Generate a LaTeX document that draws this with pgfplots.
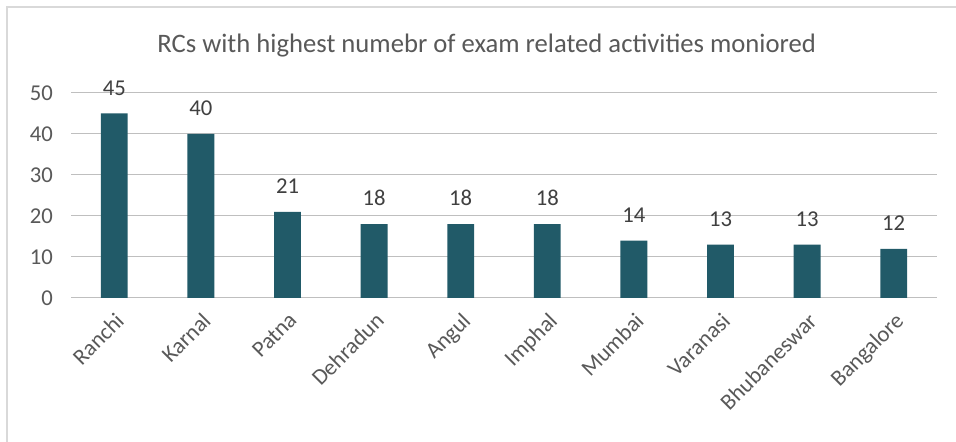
\documentclass[border=0pt]{standalone}
\usepackage{pgfplots}
\pgfplotsset{compat=1.18}
\usepackage{fontspec}
\setmainfont{Carlito}
\definecolor{bar}{HTML}{215A68}
\definecolor{grid}{HTML}{D9D9D9}
\definecolor{txt}{HTML}{595959}
\begin{document}
\begin{tikzpicture}
\useasboundingbox (0,0) rectangle (717pt,331.5pt);
\fill[white] (0,0) rectangle (717pt,331.5pt);
\draw[grid,line width=1.5pt] (5.25pt,0) -- (5.25pt,326.25pt) -- (717pt,326.25pt);
\node[txt,font=\fontsize{20}{24}\selectfont] at (365pt,297pt) {RCs with highest numebr of exam related activities moniored};
\begin{axis}[
  at={(53.25pt,108pt)}, anchor=south west,
  scale only axis, width=649.5pt, height=153.75pt,
  xmin=-0.5, xmax=9.5, ymin=0, ymax=50,
  ytick={0,10,...,50},
  xtick=data,
  xticklabels={Ranchi,Karnal,Patna,Dehradun,Angul,Imphal,Mumbai,Varanasi,Bhubaneswar,Bangalore},
  ymajorgrids, xmajorgrids=false, grid style={grid,line width=0.75pt},
  axis line style={draw=none},
  major tick length=0pt,
  tick label style={txt,font=\fontsize{17}{20}\selectfont},
  /pgf/number format/assume math mode=true,
  yticklabel style={xshift=-10pt},
  xticklabel style={xshift=0pt,yshift=-5pt,rotate=45,anchor=north east},
  ybar, bar width=0.31*649.5pt/10,
  nodes near coords,
  every node near coord/.append style={font=\fontsize{17}{20}\selectfont,color=black!75,yshift=10pt},
  clip=false,
]
\addplot[fill=bar,draw=none] coordinates {(0,45)(1,40)(2,21)(3,18)(4,18)(5,18)(6,14)(7,13)(8,13)(9,12)};
\end{axis}
\end{tikzpicture}
\end{document}
